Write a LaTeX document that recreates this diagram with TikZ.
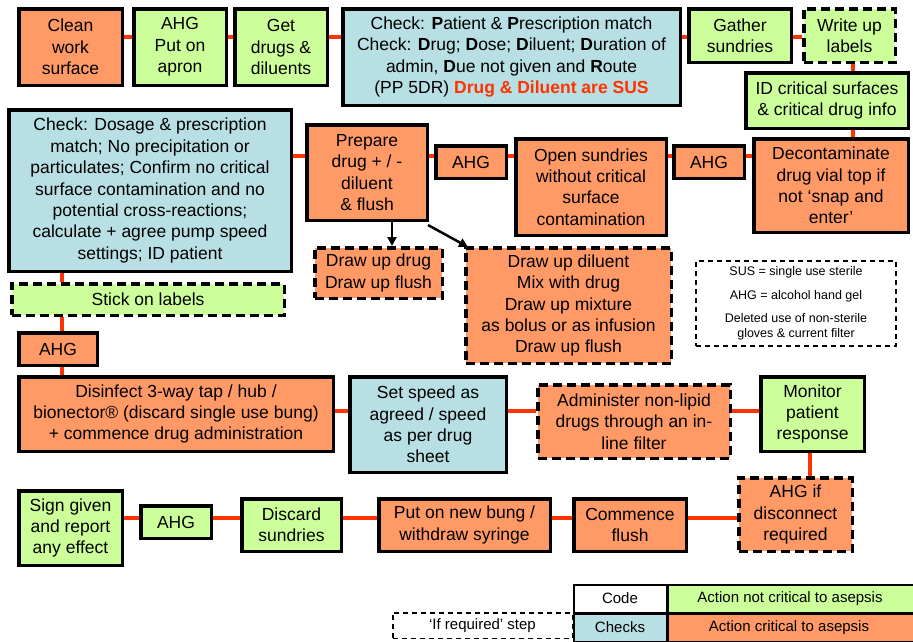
\documentclass[tikz,border=0pt]{standalone}
\usepackage{fontspec}
\setmainfont{Liberation Sans}
\usetikzlibrary{arrows.meta}
\definecolor{org}{HTML}{FF9966}
\definecolor{grn}{HTML}{CCFF99}
\definecolor{blu}{HTML}{B8DFE3}
\definecolor{conred}{HTML}{FF3300}
\pgfdeclarelayer{bg}
\pgfsetlayers{bg,main}
\begin{document}
\begin{tikzpicture}[x=1pt,y=-1pt,
  base/.style={draw=black, line width=3.5pt, inner sep=0pt, align=center,
    font=\fontsize{17.5}{21.4}\selectfont, text=black},
  ob/.style={base, fill=org},
  gb/.style={base, fill=grn},
  bb/.style={base, fill=blu},
  dsh/.style={dash pattern=on 9pt off 5pt},
  sz/.style 2 args={minimum width=#1pt, minimum height=#2pt},
  conn/.style={draw=conred, line width=4pt},
  arr/.style={draw=black, line width=2.5pt, -{Triangle[length=9pt,width=9pt]}},
  leg/.style={draw=black, line width=1.5pt, inner sep=0pt, align=center,
    font=\fontsize{15}{18}\selectfont},
  legtxt/.style={inner sep=0pt, font=\fontsize{15}{18}\selectfont}
]
\useasboundingbox (0,0) rectangle (913,641);

% row 1
\node[ob, sz={103.5}{76.5}] (clean) at (70.5,47) {Clean\\work\\surface};
\node[gb, sz={92.5}{76.5}] (apron) at (180,47) {AHG\\Put on\\apron};
\node[gb, sz={92.5}{76.5}] (getdrugs) at (281,47) {Get\\drugs \&\\diluents};
\node[bb, sz={337.5}{96.5}] (check1) at (511.5,57) {Check: \textbf{P}atient \& \textbf{P}rescription match\\Check: \textbf{D}rug; \textbf{D}ose; \textbf{D}iluent; \textbf{D}uration of\\admin, \textbf{D}ue not given and \textbf{R}oute\\(PP 5DR) \textcolor{conred}{\textbf{Drug \& Diluent are SUS}}};
\node[gb, sz={102.5}{53.5}] (gather) at (740,35.5) {Gather\\sundries};
\node[gb, dsh, sz={91.5}{53.5}] (labels) at (849.5,35.5) {Write up\\labels};
\node[gb, sz={162.5}{55.5}] (idcrit) at (827,100.5) {ID critical surfaces\\\& critical drug info};

% row 2
\node[ob, sz={154.5}{93.5}] (decon) at (831,185.5) {Decontaminate\\drug vial top if\\not ‘snap and\\enter’};
\node[ob, sz={70.5}{32.5}] (ahgb) at (709,162) {AHG};
\node[ob, sz={150.5}{96.5}] (opensund) at (591,187) {Open sundries\\without critical\\surface\\contamination};
\node[ob, sz={70.5}{32.5}] (ahga) at (471,162) {AHG};
\node[ob, sz={120.5}{95.5}] (prepare) at (367,172.5) {Prepare\\drug + / -\\diluent\\\& flush};
\node[bb, sz={282.5}{161.5}] (check2) at (150,190.5) {Check: Dosage \& prescription\\match; No precipitation or\\particulates; Confirm no critical\\surface contamination and no\\potential cross-reactions;\\calculate + agree pump speed\\settings; ID patient};

% row 3
\node[ob, dsh, sz={127.5}{50.5}] (drawdrug) at (378.5,273) {Draw up drug\\Draw up flush};
\node[ob, dsh, sz={205.5}{115.5}] (drawdil) at (568.5,305.5) {Draw up diluent\\Mix with drug\\Draw up mixture\\as bolus or as infusion\\Draw up flush};
\node[draw=black, line width=1.5pt, dash pattern=on 5pt off 4pt, inner sep=0pt, align=center,
  minimum width=200pt, minimum height=85pt, font=\fontsize{12.5}{15}\selectfont] (sus) at (796,303.5)
  {SUS = single use sterile\\[8.5pt]AHG = alcohol hand gel\\[8.5pt]Deleted use of non-sterile\\gloves \& current filter};
\node[gb, dsh, sz={272.5}{31.5}] (stick) at (148,299.5) {Stick on labels};
\node[ob, sz={78.5}{32.5}] (ahgc) at (58,349) {AHG};

% row 4
\node[ob, sz={314.5}{74.5}] (disinfect) at (176,414) {Disinfect 3-way tap / hub /\\bionector® (discard single use bung)\\+ commence drug administration};
\node[bb, sz={156.5}{95.5}] (setspeed) at (428,424.5) {Set speed as\\agreed / speed\\as per drug\\sheet};
\node[ob, dsh, sz={192.5}{73.5}] (administer) at (634,421.5) {Administer non-lipid\\drugs through an in-\\line filter};
\node[gb, sz={103.5}{74.5}] (monitor) at (812.5,414) {Monitor\\patient\\response};

% row 5
\node[ob, dsh, sz={113.5}{73.5}] (ahgif) at (795.5,514.5) {AHG if\\disconnect\\required};
\node[ob, sz={112.5}{52.5}] (commence) at (630,525) {Commence\\flush};
\node[ob, sz={171.5}{52.5}] (bung) at (464.5,525) {Put on new bung /\\withdraw syringe};
\node[gb, sz={99.5}{52.5}] (discard) at (291.5,525) {Discard\\sundries};
\node[gb, sz={70.5}{32.5}] (ahgd) at (176,522) {AHG};
\node[gb, sz={103.5}{74.5}] (sign) at (70.5,528) {Sign given\\and report\\any effect};

% legend
\node[leg, fill=white, minimum width=92.5pt, minimum height=27.5pt] (code) at (620,598.5) {};
\node[legtxt] (codet) at (code.center) {Code};
\node[leg, fill=grn, minimum width=246.5pt, minimum height=27.5pt] (notcrit) at (791,598.5) {};
\node[legtxt] (notcritt) at (790,598.5) {Action not critical to asepsis};
\node[leg, fill=blu, minimum width=92.5pt, minimum height=27.5pt] (checks) at (620,627.5) {};
\node[legtxt] (checkst) at (checks.center) {Checks};
\node[leg, fill=org, minimum width=246.5pt, minimum height=27.5pt] (crit) at (791,627.5) {};
\node[legtxt] (critt) at (789,627.5) {Action critical to asepsis};
\node[leg, dash pattern=on 5pt off 4pt, minimum width=179.5pt, minimum height=25.5pt] (ifreq) at (482.5,625.5) {};
\node[legtxt] (ifreqt) at (ifreq.center) {‘If required’ step};

% level coordinates
\coordinate (r1) at (0,37);
\coordinate (r2) at (0,156);
\coordinate (r4) at (0,411);
\coordinate (r5) at (0,518);
\coordinate (c1) at (62,0);
\coordinate (c2) at (853,0);
\coordinate (c3) at (810,0);

\begin{pgfonlayer}{bg}
% row 1
\draw[conn] (clean.east |- r1) -- (apron.west |- r1);
\draw[conn] (apron.east |- r1) -- (getdrugs.west |- r1);
\draw[conn] (getdrugs.east |- r1) -- (check1.west |- r1);
\draw[conn] (check1.east |- r1) -- (gather.west |- r1);
\draw[conn] (gather.east |- r1) -- (labels.west |- r1);
% right column
\draw[conn] (labels.south -| c2) -- (idcrit.north -| c2);
\draw[conn] (idcrit.south -| c2) -- (decon.north -| c2);
% row 2
\draw[conn] (decon.west |- r2) -- (ahgb.east |- r2);
\draw[conn] (ahgb.west |- r2) -- (opensund.east |- r2);
\draw[conn] (opensund.west |- r2) -- (ahga.east |- r2);
\draw[conn] (ahga.west |- r2) -- (prepare.east |- r2);
\draw[conn] (prepare.west |- r2) -- (check2.east |- r2);
% left column
\draw[conn] (check2.south -| c1) -- (stick.north -| c1);
\draw[conn] (stick.south -| c1) -- (ahgc.north -| c1);
\draw[conn] (ahgc.south -| c1) -- (disinfect.north -| c1);
% row 4
\draw[conn] (disinfect.east |- r4) -- (setspeed.west |- r4);
\draw[conn] (setspeed.east |- r4) -- (administer.west |- r4);
\draw[conn] (administer.east |- r4) -- (monitor.west |- r4);
\draw[conn] (monitor.south -| c3) -- (ahgif.north -| c3);
% row 5
\draw[conn] (ahgif.west |- r5) -- (commence.east |- r5);
\draw[conn] (commence.west |- r5) -- (bung.east |- r5);
\draw[conn] (bung.west |- r5) -- (discard.east |- r5);
\draw[conn] (discard.west |- r5) -- (ahgd.east |- r5);
\draw[conn] (ahgd.west |- r5) -- (sign.east |- r5);
\end{pgfonlayer}

% arrows
\draw[arr] ([xshift=25pt]prepare.south) -- ([xshift=25pt]prepare.south |- drawdrug.north);
\draw[arr] ([shift={(-1pt,-3pt)}]prepare.south east) -- ([shift={(4pt,-1pt)}]drawdil.north west);
\end{tikzpicture}
\end{document}
